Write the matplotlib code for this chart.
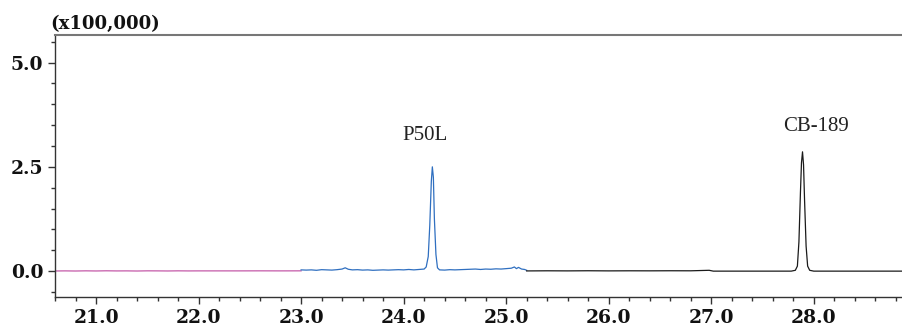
import matplotlib
matplotlib.use("Agg")
import matplotlib.pyplot as plt
from matplotlib.ticker import MultipleLocator, FormatStrFormatter

# ---- data (retention time in min, intensity in x100,000) ----
pink_t = [20.60, 20.70, 20.80, 20.90, 21.00, 21.10, 21.20, 21.30, 21.40, 21.50,
          21.60, 21.70, 21.80, 21.90, 22.00, 22.20, 22.40, 22.60, 22.80, 23.00]
pink_y = [0.004, 0.006, 0.003, 0.007, 0.004, 0.008, 0.005, 0.006, 0.003, 0.007,
          0.006, 0.004, 0.007, 0.005, 0.006, 0.006, 0.006, 0.007, 0.006, 0.007]

blue_t = [23.00, 23.05, 23.10, 23.15, 23.20, 23.25, 23.30, 23.35, 23.40, 23.43,
          23.46, 23.50, 23.55, 23.60, 23.65, 23.70, 23.75, 23.80, 23.85, 23.90,
          23.95, 24.00, 24.05, 24.10, 24.15, 24.20, 24.22, 24.24, 24.255, 24.27,
          24.28, 24.29, 24.30, 24.315, 24.33, 24.35, 24.40, 24.45, 24.50, 24.55,
          24.60, 24.65, 24.70, 24.75, 24.80, 24.85, 24.90, 24.95, 25.00, 25.05,
          25.08, 25.10, 25.12, 25.15, 25.18, 25.20]
blue_y = [0.03, 0.025, 0.03, 0.02, 0.035, 0.03, 0.025, 0.035, 0.05, 0.08,
          0.045, 0.03, 0.035, 0.025, 0.03, 0.02, 0.025, 0.03, 0.025, 0.03,
          0.035, 0.03, 0.04, 0.03, 0.04, 0.05, 0.10, 0.35, 1.10, 2.15,
          2.50, 2.25, 1.25, 0.40, 0.08, 0.03, 0.025, 0.035, 0.03, 0.035,
          0.04, 0.045, 0.05, 0.04, 0.05, 0.045, 0.055, 0.05, 0.06, 0.07,
          0.10, 0.06, 0.09, 0.05, 0.04, 0.02]

black_t = [25.20, 25.40, 25.60, 25.80, 26.00, 26.20, 26.40, 26.60, 26.80, 26.98,
           27.02, 27.20, 27.40, 27.60, 27.78, 27.82, 27.84, 27.855, 27.87, 27.88,
           27.89, 27.90, 27.91, 27.925, 27.94, 27.96, 28.00, 28.20, 28.40, 28.60,
           28.87]
black_y = [0.005, 0.008, 0.006, 0.009, 0.006, 0.008, 0.007, 0.009, 0.008, 0.02,
           0.0, 0.0, 0.0, 0.0, 0.0, 0.02, 0.12, 0.70, 1.90, 2.60,
           2.86, 2.55, 1.70, 0.60, 0.12, 0.02, 0.0, 0.0, 0.0, 0.0,
           0.0]

x_ticks = [21.0, 22.0, 23.0, 24.0, 25.0, 26.0, 27.0, 28.0]
y_ticks = [0.0, 2.5, 5.0]
peak_labels = ["P50L", "CB-189"]
label_pos_t = [24.21, 28.02]
label_pos_y = [3.26, 3.46]

tick_font = "DejaVu Serif"

fig = plt.figure(figsize=(9.03, 3.27), dpi=100)
ax = fig.add_axes([55 / 903, 1 - 297 / 327, 1 - 55 / 903, (297 - 35) / 327])

ax.plot(pink_t, pink_y, color="#c45aa8", lw=0.9)
ax.plot(blue_t, blue_y, color="#2f6fc0", lw=0.9)
ax.plot(black_t, black_y, color="#1a1a1a", lw=0.9)

for lab, tx, ty in zip(peak_labels, label_pos_t, label_pos_y):
    ax.text(tx, ty, lab, family="Liberation Serif", fontsize=15,
            ha="center", va="center", color="#222222")

ax.set_xlim(20.6, 28.87)
ax.set_ylim(-0.62, 5.66)
ax.set_xticks(x_ticks)
ax.set_yticks(y_ticks)
ax.xaxis.set_major_formatter(FormatStrFormatter("%.1f"))
ax.yaxis.set_major_formatter(FormatStrFormatter("%.1f"))
ax.xaxis.set_minor_locator(MultipleLocator(0.2))
ax.yaxis.set_minor_locator(MultipleLocator(0.5))

ax.tick_params(which="major", length=5, width=1, color="#333333", pad=3.5)
ax.tick_params(which="minor", length=3, width=1, color="#333333")
for lbl in ax.get_xticklabels() + ax.get_yticklabels():
    lbl.set_family(tick_font)
    lbl.set_fontsize(13.5)
    lbl.set_fontweight("bold")
    lbl.set_color("#111111")

ax.spines["right"].set_visible(False)
for s in ["left", "bottom"]:
    ax.spines[s].set_color("#333333")
    ax.spines[s].set_linewidth(1.0)
ax.spines["top"].set_color("#777777")
ax.spines["top"].set_linewidth(1.5)

fig.text(50 / 903, 1 - 24 / 327, "(x100,000)", family=tick_font, fontsize=13,
         fontweight="bold", ha="left", va="center", color="#111111")

fig.savefig("out.png", dpi=100)
